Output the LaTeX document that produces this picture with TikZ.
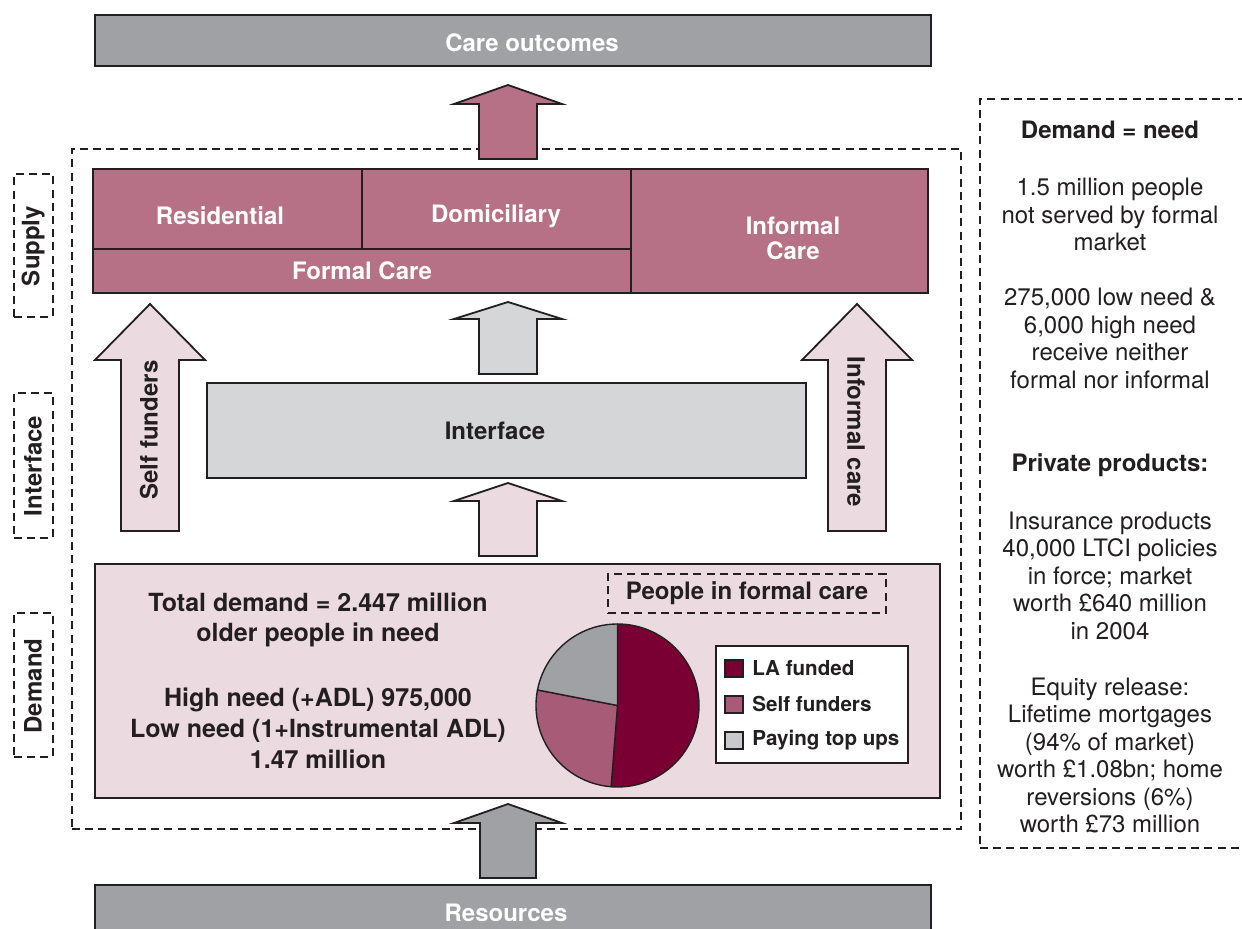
\documentclass[tikz,border=0pt]{standalone}
\usepackage{fontspec}
\setmainfont{TeX Gyre Heros}
\usetikzlibrary{fit}

\definecolor{ink}{HTML}{231F20}
\definecolor{mauve}{HTML}{B67186}
\definecolor{wine}{HTML}{7A0034}
\definecolor{rose}{HTML}{A75B76}
\definecolor{blush}{HTML}{EBDADF}
\definecolor{steel}{HTML}{A0A1A4}
\definecolor{mist}{HTML}{D5D6D8}
\definecolor{pale}{HTML}{C9CACC}

% upward block arrow: centre x, tip y, head-base y, bottom y, half head width, half shaft width, fill
\newcommand\blockarrow[7]{%
  \filldraw[arrowbody, fill=#7] (#1,#2) -- (#1+#5,#3) -- (#1+#6,#3) -- (#1+#6,#4)
    -- (#1-#6,#4) -- (#1-#6,#3) -- (#1-#5,#3) -- cycle;}

\begin{document}
\begin{tikzpicture}[x=0.5pt,y=-0.5pt,
  font=\fontsize{12}{13.75}\selectfont,
  box/.style={draw=ink, line width=0.9pt, inner sep=0pt},
  dashbox/.style={draw=ink, line width=0.6pt, dash pattern=on 4pt off 2.6pt, inner sep=0pt},
  arrowbody/.style={draw=ink, line width=0.9pt, line join=miter},
  whitelabel/.style={text=white, font=\fontsize{12}{14}\selectfont\bfseries, align=center, inner sep=0pt},
  darklabel/.style={text=ink, font=\fontsize{12}{14}\selectfont\bfseries, align=center, inner sep=0pt},
  plain/.style={text=ink, align=center, inner sep=0pt},
  legendtext/.style={text=ink, font=\fontsize{10.3}{12}\selectfont\bfseries, anchor=west, inner sep=0pt},
  swatch/.style={draw=ink, line width=0.7pt, inner sep=0pt},
  slice/.style={draw=ink, line width=0.7pt, line join=round}]

\useasboundingbox (0,0) rectangle (1242,929);
\clip (0,0) rectangle (1242,929);
\fill[white] (0,0) rectangle (1242,929);

% ---- outer frame and side labels ----
\node[dashbox, fit={(72,149) (961,829)}] (frame) {};
\node[dashbox, fit={(14,174) (53,317)}] (supplytag) {};
\node[darklabel, rotate=90] (supplytxt) at (33,246) {Supply};
\node[dashbox, fit={(14,393) (53,538)}] (interfacetag) {};
\node[darklabel, rotate=90] (interfacetxt) at (33,466) {Interface};
\node[dashbox, fit={(14,613) (53,757)}] (demandtag) {};
\node[darklabel, rotate=90] (demandtxt) at (33,686) {Demand};

% ---- care outcomes ----
\node[box, fill=steel, fit={(95,15) (931,66)}] (outcomes) {};
\node[whitelabel] (outcomestxt) at (532,43) {Care outcomes};

% ---- supply ----
\node[box, fill=mauve, fit={(93,169) (362,249)}] (residential) {};
\node[box, fill=mauve, fit={(362,169) (631,249)}] (domiciliary) {};
\node[box, fill=mauve, fit={(93,249) (631,293)}] (formal) {};
\node[box, fill=mauve, fit={(631,169) (928,293)}] (informal) {};
\node[whitelabel] (residentialtxt) at (220,216) {Residential};
\node[whitelabel] (domiciliarytxt) at (496,216) {Domiciliary};
\node[whitelabel] (formaltxt) at (362,271) {Formal Care};
\node[whitelabel, font=\fontsize{12}{12.5}\selectfont\bfseries] (informaltxt) at (793,238) {Informal\\Care};

% ---- interface ----
\node[box, fill=mist, fit={(207,383) (806,478)}] (interface) {};
\node[darklabel] (interfacetxt2) at (495,431) {Interface};

% ---- demand ----
\node[box, fill=blush, fit={(95,564) (940,798)}] (demand) {};
\node[darklabel, font=\fontsize{12.5}{15.2}\selectfont\bfseries] (totaltxt) at (318,620)
  {Total demand = 2.447 million\\older people in need};
\node[darklabel, font=\fontsize{12.5}{15.6}\selectfont\bfseries] (needtxt) at (318,728.5)
  {High need (+ADL) 975,000\\Low need (1+Instrumental ADL)\\1.47 million};
\node[dashbox, fit={(608,574) (886,613)}] (peoplebox) {};
\node[darklabel] (peopletxt) at (747,593) {People in formal care};

% pie of people in formal care
\coordinate (pc) at (617.5,705.5);
\filldraw[slice, fill=wine] (pc) -- ++(90:40.75pt) arc[start angle=90, end angle=-94.5, radius=40.75pt] -- cycle;
\filldraw[slice, fill=rose] (pc) -- ++(265.5:40.75pt) arc[start angle=265.5, end angle=169, radius=40.75pt] -- cycle;
\filldraw[slice, fill=steel] (pc) -- ++(169:40.75pt) arc[start angle=169, end angle=90, radius=40.75pt] -- cycle;

% legend
\node[box, fill=white, line width=0.8pt, fit={(716,646) (908,763)}] (legend) {};
\node[swatch, fill=wine, fit={(725,660) (743,677)}] (swla) {};
\node[swatch, fill=rose, fit={(725,696) (743,713)}] (swself) {};
\node[swatch, fill=pale, fit={(725,732) (743,749)}] (swtop) {};
\node[legendtext] (legla) at (752,668) {LA funded};
\node[legendtext] (legself) at (752,704) {Self funders};
\node[legendtext] (legtop) at (752,740) {Paying top ups};

% ---- resources ----
\node[box, fill=steel, fit={(95,885) (931,945)}] (resources) {};
\node[whitelabel] (resourcestxt) at (506,913) {Resources};

% ---- block arrows ----
\blockarrow{508}{85}{104}{159}{54}{29}{mauve}
\blockarrow{508}{302}{319}{374}{54}{29}{mist}
\blockarrow{508}{483}{501}{556}{54}{29}{blush}
\blockarrow{508}{804}{823}{878}{54}{28}{steel}
\blockarrow{150}{304}{360}{531}{55}{29}{blush}
\blockarrow{857}{304}{360}{531}{55}{29}{blush}
\node[darklabel, rotate=90] (selftxt) at (149,430) {Self funders};
\node[darklabel, rotate=-90] (informalcaretxt) at (856,432) {Informal care};

% ---- market notes ----
\node[dashbox, fit={(980,99) (1260,848)}] (notes) {};
\node[darklabel] (needhead) at (1110,130) {Demand = need};
\node[plain] (unserved) at (1110,214.5) {1.5 million people\\not served by formal\\market};
\node[plain] (neither) at (1110,338.5) {275,000 low need \&\\6,000 high need\\receive neither\\formal nor informal};
\node[darklabel] (privhead) at (1110,465) {Private products:};
\node[plain] (insurance) at (1110,575.5) {Insurance products\\40,000 LTCI policies\\in force; market\\worth £640 million\\in 2004};
\node[plain] (equity) at (1110,755.5) {Equity release:\\Lifetime mortgages\\(94\% of market)\\worth £1.08bn; home\\reversions (6\%)\\worth £73 million};

\end{tikzpicture}
\end{document}
